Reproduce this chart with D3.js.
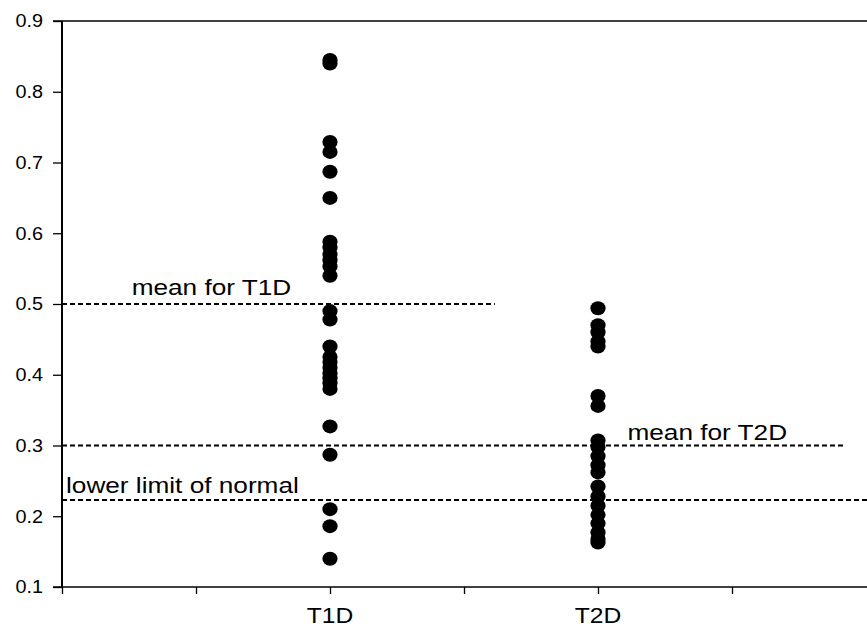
<!DOCTYPE html>
<html>
<head>
<meta charset="utf-8">
<script src="https://cdn.jsdelivr.net/npm/d3@7"></script>
<style>
  body { margin: 0; background: #fff; }
  text { font-family: "Liberation Sans", Arial, sans-serif; fill: #000; }
</style>
</head>
<body>
<script>
const groups = ['T1D', 'T2D'];
const groupPos = [2, 4];

const t1dValues = [0.845, 0.840, 0.729, 0.715, 0.687, 0.650,
  0.588, 0.580, 0.570, 0.562, 0.553, 0.540,
  0.490, 0.478, 0.440, 0.425, 0.418, 0.410, 0.402, 0.395, 0.388, 0.380,
  0.327, 0.287, 0.210, 0.186, 0.140];
const t2dValues = [0.494, 0.470, 0.460, 0.447, 0.440, 0.370, 0.356,
  0.307, 0.298, 0.285, 0.272, 0.262, 0.242, 0.228, 0.215, 0.202,
  0.190, 0.177, 0.168, 0.163];

const yTicks = [0.1, 0.2, 0.3, 0.4, 0.5, 0.6, 0.7, 0.8, 0.9];
const xTicks = [0, 1, 2, 3, 4, 5];

const refLines = [
  { label: 'mean for T1D', value: 0.5, from: 0, to: 3.23, labelAt: 0.52, dy: 9 },
  { label: 'mean for T2D', value: 0.3, from: 0, to: 5.83, labelAt: 4.22, dy: 6 },
  { label: 'lower limit of normal', value: 0.223, from: 0, to: 6.1, labelAt: 0.03, dy: 7 }
];

const width = 867;
const height = 629;
const mLeft = 62, mRight = 866, mTop = 21, mBottom = 587;

const svg = d3.select('body')
  .append('svg')
  .attr('width', width)
  .attr('height', height);

const x = d3.scaleLinear().domain([0, 6]).range([mLeft, mRight]);
const y = d3.scaleLinear().domain([0.1, 0.9]).range([mBottom, mTop]);

// widen text to match the stretched original
function widen(sel, f) {
  sel.each(function () {
    const len = this.getComputedTextLength();
    d3.select(this)
      .attr('textLength', len * f)
      .attr('lengthAdjust', 'spacingAndGlyphs');
  });
}

// y axis
const yAxis = d3.axisLeft(y)
  .tickValues(yTicks)
  .tickSize(9)
  .tickPadding(10)
  .tickFormat(d3.format('.1f'));

const gy = svg.append('g')
  .attr('transform', 'translate(' + mLeft + ',0)')
  .call(yAxis);
gy.select('.domain').remove();
gy.selectAll('line').attr('stroke', '#000').attr('stroke-width', 1.3);
gy.selectAll('text').style('font-size', '18px');
widen(gy.selectAll('text'), 1.1);

// x axis
const xAxis = d3.axisBottom(x)
  .tickValues(xTicks)
  .tickSize(7)
  .tickFormat('');

const gx = svg.append('g')
  .attr('transform', 'translate(0,' + mBottom + ')')
  .call(xAxis);
gx.select('.domain').remove();
gx.selectAll('line').attr('stroke', '#000').attr('stroke-width', 1.3);

// frame lines: left, bottom, top
svg.append('line')
  .attr('x1', mLeft).attr('x2', mLeft)
  .attr('y1', y(0.9)).attr('y2', y(0.1))
  .attr('stroke', '#000').attr('stroke-width', 2);
svg.append('line')
  .attr('x1', mLeft - 9).attr('x2', width)
  .attr('y1', y(0.1)).attr('y2', y(0.1))
  .attr('stroke', '#000').attr('stroke-width', 1.7);
svg.append('line')
  .attr('x1', mLeft - 9).attr('x2', width)
  .attr('y1', y(0.9)).attr('y2', y(0.9))
  .attr('stroke', '#000').attr('stroke-width', 1.3);

// category labels
const cats = svg.selectAll('.cat')
  .data(groups)
  .enter()
  .append('text')
  .attr('class', 'cat')
  .attr('x', (d, i) => x(groupPos[i]))
  .attr('y', mBottom + 36)
  .attr('text-anchor', 'middle')
  .style('font-size', '22px')
  .text(d => d);
widen(cats, 1.12);

// reference lines
svg.selectAll('.ref')
  .data(refLines)
  .enter()
  .append('line')
  .attr('class', 'ref')
  .attr('x1', d => x(d.from))
  .attr('x2', d => Math.min(x(d.to), width))
  .attr('y1', d => y(d.value))
  .attr('y2', d => y(d.value))
  .attr('stroke', '#000')
  .attr('stroke-width', 1.8)
  .attr('stroke-dasharray', '5,3');

const refText = svg.selectAll('.reflabel')
  .data(refLines)
  .enter()
  .append('text')
  .attr('class', 'reflabel')
  .attr('x', d => x(d.labelAt))
  .attr('y', d => y(d.value) - d.dy)
  .style('font-size', '22px')
  .text(d => d.label);
widen(refText, 1.19);

// dots
const series = [t1dValues, t2dValues];
series.forEach((vals, i) => {
  svg.append('g')
    .selectAll('ellipse')
    .data(vals)
    .enter()
    .append('ellipse')
    .attr('cx', x(groupPos[i]))
    .attr('cy', d => y(d))
    .attr('rx', 7.6)
    .attr('ry', 7)
    .attr('fill', '#000');
});
</script>
</body>
</html>
